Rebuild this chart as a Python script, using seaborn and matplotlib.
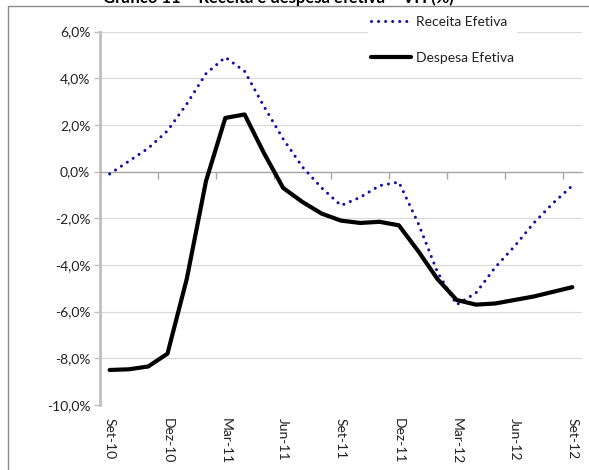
import numpy as np
import pandas as pd
import seaborn as sns
import matplotlib
matplotlib.use("Agg")
import matplotlib.pyplot as plt
from matplotlib.patches import Rectangle

# ---- data (monthly, Set-10 .. Set-12), % y/y ----
months = ["Set-10", "Out-10", "Nov-10", "Dez-10", "Jan-11", "Fev-11", "Mar-11",
          "Abr-11", "Mai-11", "Jun-11", "Jul-11", "Ago-11", "Set-11", "Out-11",
          "Nov-11", "Dez-11", "Jan-12", "Fev-12", "Mar-12", "Abr-12", "Mai-12",
          "Jun-12", "Jul-12", "Ago-12", "Set-12"]
receita = [-0.1, 0.45, 1.0, 1.75, 2.9, 4.2, 4.9, 4.3, 2.8, 1.4, 0.2, -0.7, -1.45,
           -1.1, -0.6, -0.45, -2.2, -4.3, -5.7, -5.2, -4.1, -3.2, -2.2, -1.35, -0.6]
despesa = [-8.5, -8.47, -8.35, -7.8, -4.6, -0.4, 2.3, 2.45, 0.8, -0.7, -1.3, -1.8,
           -2.1, -2.2, -2.15, -2.3, -3.4, -4.6, -5.5, -5.7, -5.65, -5.5, -5.35,
           -5.15, -4.95]
label_months = ["Set-10", "Dez-10", "Mar-11", "Jun-11", "Set-11", "Dez-11",
                "Mar-12", "Jun-12", "Set-12"]
y_ticks = [6, 4, 2, 0, -2, -4, -6, -8, -10]
y_ticklabels = ["6,0%", "4,0%", "2,0%", "0,0%", "-2,0%", "-4,0%", "-6,0%",
                "-8,0%", "-10,0%"]
series_names = ["Receita Efetiva", "Despesa Efetiva"]
title = "Gráfico 11 – Receita e despesa efetiva – VH (%)"

df = pd.DataFrame({"mes": months, "i": np.arange(len(months)),
                   "Receita": receita, "Despesa": despesa})

sns.set_theme(style="white")
plt.rcParams["font.family"] = ["Lato", "DejaVu Sans"]

W, H = 589, 470
fig = plt.figure(figsize=(W / 100, H / 100), dpi=100)
ax = fig.add_axes([100 / W, 1 - 405 / H, 482 / W, (405 - 31.6) / H])

sns.lineplot(data=df, x="i", y="Receita", ax=ax, color="#1010A8",
             linewidth=2.2, linestyle=(0, (0.01, 2.3)),
             dash_capstyle="round", label=series_names[0], zorder=3)
sns.lineplot(data=df, x="i", y="Despesa", ax=ax, color="black",
             linewidth=3.0, label=series_names[1], zorder=4)
ax.get_lines()[0].set_dash_capstyle("round")
ax.get_lines()[1].set_solid_joinstyle("round")

n = len(months)
ax.set_xlim(-0.5, n - 0.5)
ax.set_ylim(-10, 6)
ax.set_xlabel("")
ax.set_ylabel("")

# y axis
ax.set_yticks(y_ticks)
ax.set_yticklabels(y_ticklabels, fontsize=10, color="#222222")
ax.yaxis.grid(True, color="#D9D9D9", linewidth=0.8)
ax.set_axisbelow(True)
ax.tick_params(axis="y", direction="out", length=4, width=1, color="#BFBFBF",
               pad=3, left=True)
ax.spines["left"].set_color("#BFBFBF")
ax.spines["left"].set_linewidth(2.0)
for s in ["top", "right"]:
    ax.spines[s].set_visible(False)

# x axis line crossing at 0 with tick marks between categories
ax.spines["bottom"].set_position(("data", 0))
ax.spines["bottom"].set_color("#A6A6A6")
ax.spines["bottom"].set_linewidth(1.0)
ax.set_xticks(np.arange(-0.5, n - 1, 3))
ax.set_xticklabels([])
ax.tick_params(axis="x", direction="out", length=5, width=1, color="#A6A6A6",
               bottom=True)

# category labels at the bottom
sec = ax.secondary_xaxis("bottom")
sec.spines["bottom"].set_visible(False)
sec.set_xticks(df["i"][::3].to_numpy())
sec.set_xticklabels(label_months, rotation=270, fontsize=10, color="#222222",
                    ha="center", va="top")
sec.tick_params(axis="x", length=0, pad=9)

# legend
leg = ax.legend(loc="upper left", bbox_to_anchor=(368 / W, 1 - 13 / H),
                bbox_transform=fig.transFigure, frameon=True, fontsize=10,
                handlelength=2.9, handletextpad=0.35, labelspacing=1.75,
                borderpad=0.2, borderaxespad=0)
leg.get_frame().set_facecolor("white")
leg.get_frame().set_edgecolor("none")
leg.get_frame().set_alpha(1)
for t in leg.get_texts():
    t.set_color("#222222")

# outer chart border and clipped title
fig.patches.append(Rectangle((8 / W, -0.1), 1.2, 1 - 6 / H + 0.1,
                             transform=fig.transFigure, fill=False,
                             edgecolor="#8C8C8C", linewidth=1.0))
fig.text(278 / W, 1 - 3.5 / H, title, ha="center", va="baseline",
         fontsize=12, fontweight="bold", color="black")

fig.savefig("out.png", dpi=100)
